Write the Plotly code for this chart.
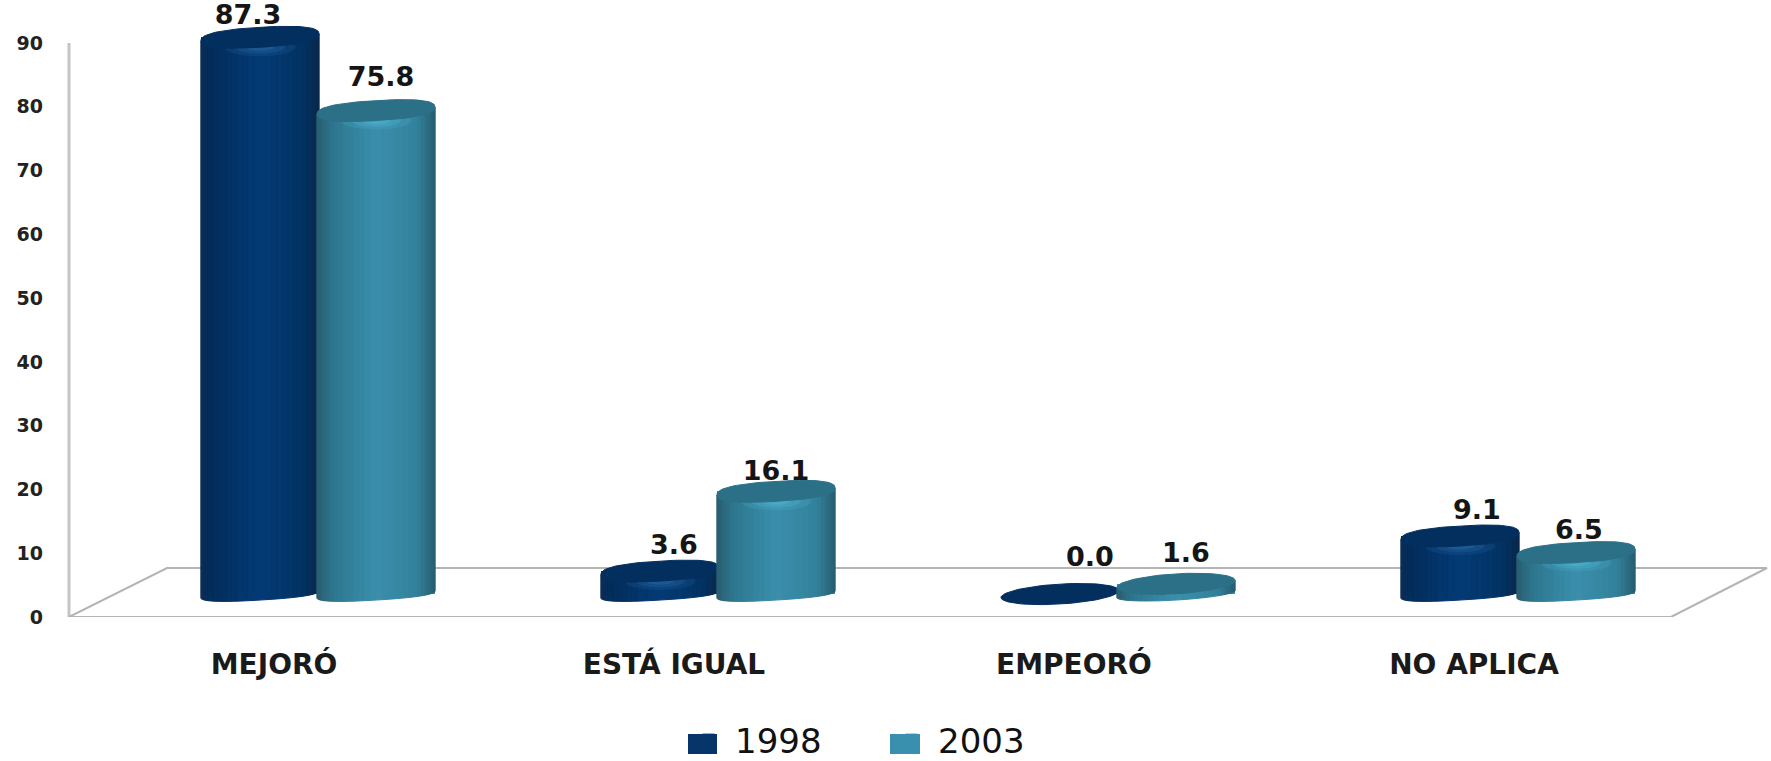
import numpy as np
import plotly.graph_objects as go

categories = ["MEJORÓ", "ESTÁ IGUAL", "EMPEORÓ", "NO APLICA"]
series_names = ["1998", "2003"]
values_1998 = [87.3, 3.6, 0.0, 9.1]
values_2003 = [75.8, 16.1, 1.6, 6.5]
y_ticks = list(range(0, 100, 10))

# figure geometry (px)
W, H = 1771, 761
ML, MT, Y0PX = 60, 5, 617
PX_PER_UNIT = 574 / 90
PX_PER_CAT = 400
CAT0PX = 318
xr = [(ML - CAT0PX) / PX_PER_CAT, (W - CAT0PX) / PX_PER_CAT]
yr = [0, (Y0PX - MT) / PX_PER_UNIT]
dx = lambda p: p / PX_PER_CAT
dy = lambda p: p / PX_PER_UNIT
px2x = lambda p: (p - CAT0PX) / PX_PER_CAT
px2y = lambda p: (Y0PX - p) / PX_PER_UNIT

BASE = 3.6        # the pseudo-3D floor lifts the bars above the axis zero
HALF_W = dx(59)
OFFS = [-dx(58), dx(58)]
TOP_SH, BOT_SH, SKEW = dy(10), dy(6), dy(3.5)

styles = {
    "1998": dict(
        top="#032f5e", glow="#2a6aa4", swatch="#07356a",
        stops=[(-1, "#0c2f58"), (-.8, "#032d5c"), (0, "#053b76"), (.7, "#023364"), (1, "#0a2a4c")]),
    "2003": dict(
        top="#2b7087", glow="#50b8d6", swatch="#388fae",
        stops=[(-1, "#2a5e70"), (-.7, "#2f7890"), (0, "#3b8fad"), (.7, "#33829c"), (1, "#285f72")]),
}


def hex2rgb(h):
    return np.array([int(h[i:i + 2], 16) for i in (1, 3, 5)], float)


def shade(stops, t):
    ts = [s[0] for s in stops]
    cs = np.array([hex2rgb(s[1]) for s in stops])
    return "rgb(%d,%d,%d)" % tuple(np.interp(t, ts, cs[:, k]) for k in range(3))


def poly(xs, ys, color, opacity=1.0, line=True):
    return go.Scatter(x=list(xs), y=list(ys), mode="lines", fill="toself", fillcolor=color,
                      line=dict(color=color, width=1 if line else 0), opacity=opacity,
                      showlegend=False, hoverinfo="skip")


def round_arc(ts, p):
    return (1 - np.abs(ts) ** p) ** (1 / p)


def ellipse(cx, cy, a, b, skew, p=2.0, n=80):
    th = np.linspace(0, 2 * np.pi, n)
    c = np.sign(np.cos(th)) * np.abs(np.cos(th)) ** (2 / p)
    s = np.sign(np.sin(th)) * np.abs(np.sin(th)) ** (2 / p)
    return cx + a * c, cy + b * s + skew * c


fig = go.Figure()

# real bars, one per series
for name, vals, off in zip(series_names, (values_1998, values_2003), OFFS):
    fig.add_trace(go.Bar(
        x=[i + off for i in range(len(categories))], y=vals, base=BASE, width=2 * HALF_W,
        name=name, marker=dict(color=styles[name]["swatch"], line=dict(width=0)), hoverinfo="skip"))

# cylinder shading over the bars
edges = np.sin(np.linspace(-np.pi / 2, np.pi / 2, 33))
for i in range(len(categories)):
    for name, vals, off in zip(series_names, (values_1998, values_2003), OFFS):
        st = styles[name]
        v = vals[i]
        cx = i + off
        top = BASE + v
        p = 2.5 if v >= 3 else 2.0
        for a, b in zip(edges[:-1], edges[1:]):
            ts = np.linspace(a, b, 5)
            xs = cx + HALF_W * ts
            low = BASE - BOT_SH * round_arc(ts, p) + SKEW * ts
            up = top - TOP_SH * round_arc(ts, p) + SKEW * ts
            if v > 0:
                fig.add_trace(poly(np.r_[xs, xs[::-1], xs[0]], np.r_[low, up[::-1], low[0]],
                                   shade(st["stops"], (a + b) / 2)))
        # bevel glow just below the front of the top face (only where a side wall exists)
        if v >= 3:
            for frac, op in ((1.0, .2), (.7, .28), (.4, .42)):
                ex, ey = ellipse(cx, top - TOP_SH, HALF_W * .6 * frac, dy(9) * frac, 0)
                fig.add_trace(poly(ex, ey, st["glow"], op, line=False))
        # top face
        ex, ey = ellipse(cx, top, HALF_W, TOP_SH, SKEW, p)
        fig.add_trace(poly(ex, ey, st["top"]))

# value labels
label_gap_px = {"1998": [20, 24, 35, 24], "2003": [31, 18, 29, 20]}
label_dx_px = {"1998": [-12, 14, 30, 17], "2003": [5, 0, 10, 3]}
for name, vals, off in zip(series_names, (values_1998, values_2003), OFFS):
    fig.add_trace(go.Scatter(
        x=[i + off + dx(d) for i, d in enumerate(label_dx_px[name])],
        y=[BASE + v + dy(g) for v, g in zip(vals, label_gap_px[name])],
        text=["%.1f" % v for v in vals], mode="text", textposition="middle center",
        cliponaxis=False,
        textfont=dict(family="DejaVu Sans", size=27, color="#151515", weight="bold"),
        showlegend=False, hoverinfo="skip"))

GRAY = "#b4b4b4"
LEG_SW = [(688, 717), (890, 920)]
shapes = [
    dict(type="line", xref="x", yref="y", layer="below", x0=px2x(69), x1=px2x(69), y0=0, y1=90,
         line=dict(color="#c4c4c4", width=3)),
    dict(type="path", xref="x", yref="y", layer="below",
         path="M %f,%f L %f,%f L %f,%f L %f,%f Z" % (
             px2x(69), px2y(617), px2x(167), px2y(568), px2x(1767), px2y(568), px2x(1671), px2y(617)),
         line=dict(color=GRAY, width=2), fillcolor="rgba(0,0,0,0)"),
]
for (a, b), name in zip(LEG_SW, series_names):
    shapes.append(dict(type="rect", xref="paper", yref="paper", layer="above",
                       x0=(a - ML) / (W - ML), x1=(b - ML) / (W - ML),
                       y0=(Y0PX - 754) / (Y0PX - MT), y1=(Y0PX - 734) / (Y0PX - MT),
                       fillcolor=styles[name]["swatch"], line=dict(width=0)))

fig.update_layout(
    width=W, height=H, autosize=False,
    margin=dict(l=ML, r=0, t=MT, b=H - Y0PX, pad=0, autoexpand=False),
    paper_bgcolor="white", plot_bgcolor="white",
    barmode="overlay", bargap=0,
    shapes=shapes,
    showlegend=True,
    legend=dict(orientation="h", x=(682 - ML) / (W - ML), y=(Y0PX - 740) / (Y0PX - MT),
                xanchor="left", yanchor="middle", bgcolor="rgba(0,0,0,0)", maxheight=120,
                itemwidth=43, entrywidth=145, entrywidthmode="pixels", itemclick=False,
                font=dict(family="DejaVu Sans", size=34, color="#111111")),
    xaxis=dict(range=xr, tickmode="array", tickvals=[i - 0.11 for i in range(len(categories))],
               ticktext=categories, showgrid=False, zeroline=False, showline=False, ticks="",
               ticklabelstandoff=28,
               tickfont=dict(family="DejaVu Sans", size=28, color="#1a1a1a", weight="bold")),
    yaxis=dict(range=yr, tickmode="array", tickvals=y_ticks, showgrid=False, zeroline=False,
               showline=False, ticks="", ticklabelstandoff=16,
               tickfont=dict(family="DejaVu Sans", size=19, color="#222222", weight="bold")),
)

fig.write_html("out.html", config=dict(displayModeBar=False),
               post_script="document.body.style.margin='0';document.documentElement.style.overflow='hidden';")
